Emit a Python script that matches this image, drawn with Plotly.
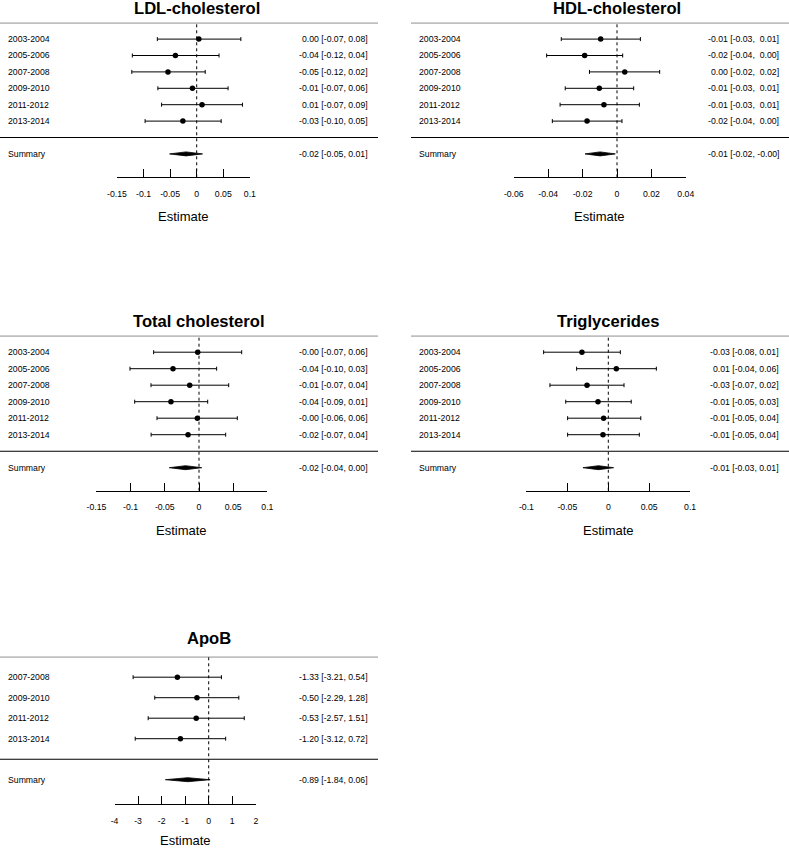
import plotly.graph_objects as go

W, H = 789, 848

# ---------------- data ----------------
years6 = ["2003-2004", "2005-2006", "2007-2008", "2009-2010", "2011-2012", "2013-2014"]
years4 = ["2007-2008", "2009-2010", "2011-2012", "2013-2014"]

ldl_est = [0.004, -0.040, -0.054, -0.008, 0.010, -0.026]
ldl_lo = [-0.074, -0.121, -0.122, -0.073, -0.066, -0.097]
ldl_hi = [0.083, 0.042, 0.016, 0.059, 0.086, 0.046]
ldl_sum = [-0.020, -0.051, 0.011]

hdl_est = [-0.0095, -0.0188, 0.0045, -0.0103, -0.0076, -0.0174]
hdl_lo = [-0.0324, -0.0409, -0.0160, -0.0301, -0.0331, -0.0376]
hdl_hi = [0.0136, 0.0033, 0.0248, 0.0097, 0.0130, 0.0029]
hdl_sum = [-0.0098, -0.0186, -0.0010]

tc_est = [-0.0019, -0.038, -0.0136, -0.041, -0.0024, -0.016]
tc_lo = [-0.0663, -0.1009, -0.0702, -0.094, -0.0614, -0.070]
tc_hi = [0.0624, 0.0258, 0.0434, 0.0127, 0.056, 0.039]
tc_sum = [-0.0197, -0.0434, 0.004]

tg_est = [-0.0322, 0.0098, -0.026, -0.0126, -0.0057, -0.0065]
tg_lo = [-0.079, -0.0387, -0.0713, -0.052, -0.0497, -0.0497]
tg_hi = [0.0147, 0.0587, 0.0192, 0.028, 0.0397, 0.0379]
tg_sum = [-0.012, -0.031, 0.0065]

apob_est = [-1.33, -0.50, -0.53, -1.20]
apob_lo = [-3.21, -2.29, -2.57, -3.12]
apob_hi = [0.54, 1.28, 1.51, 0.72]
apob_sum = [-0.89, -1.84, 0.06]

ticks_ldl = [-0.15, -0.1, -0.05, 0, 0.05, 0.1]
ticks_hdl = [-0.06, -0.04, -0.02, 0, 0.02, 0.04]
ticks_tc = [-0.15, -0.1, -0.05, 0, 0.05, 0.1]
ticks_tg = [-0.1, -0.05, 0, 0.05, 0.1]
ticks_apob = [-4, -3, -2, -1, 0, 1, 2]

# ---------------- layout geometry (pixels) ----------------
panels = [
    dict(title="LDL-cholesterol", labels=years6, est=ldl_est, lo=ldl_lo, hi=ldl_hi, summ=ldl_sum, ticks=ticks_ldl,
         zero=196.7, scale=532.0, left=0, right=378, ytop=22.7, unit=16.4, yaxis=177.3, ytitle=8.3, yxlab=216.7),
    dict(title="HDL-cholesterol", labels=years6, est=hdl_est, lo=hdl_lo, hi=hdl_hi, summ=hdl_sum, ticks=ticks_hdl,
         zero=617.0, scale=1720.0, left=411, right=789, ytop=22.7, unit=16.4, yaxis=177.3, ytitle=8.3, yxlab=216.7),
    dict(title="Total cholesterol", labels=years6, est=tc_est, lo=tc_lo, hi=tc_hi, summ=tc_sum, ticks=ticks_tc,
         zero=199.0, scale=684.0, left=0, right=378, ytop=335.7, unit=16.5, yaxis=490.7, ytitle=321.3, yxlab=530.0),
    dict(title="Triglycerides", labels=years6, est=tg_est, lo=tg_lo, hi=tg_hi, summ=tg_sum, ticks=ticks_tg,
         zero=608.3, scale=818.5, left=411, right=789, ytop=335.7, unit=16.5, yaxis=490.7, ytitle=321.3, yxlab=530.0),
    dict(title="ApoB", labels=years4, est=apob_est, lo=apob_lo, hi=apob_hi, summ=apob_sum, ticks=ticks_apob,
         zero=208.7, scale=23.55, left=0, right=378, ytop=656.7, unit=20.5, yaxis=804.3, ytitle=638.5, yxlab=840.7),
]

FONT = "Liberation Sans, Arial, Helvetica, sans-serif"
SMALL = 8.7
NB = "\u00a0"


def f2(v):
    return f"{v:.2f}"


def pad(s, w):
    return NB * (w - len(s)) + s


def make_labels(est, lo, hi, summ):
    all_lo = lo + [summ[1]]
    all_hi = hi + [summ[2]]
    wl = max(len(f2(v)) for v in all_lo)
    wh = max(len(f2(v)) for v in all_hi)
    out = []
    for e, l, h in zip(est + [summ[0]], all_lo, all_hi):
        out.append(f"{f2(e)} [{pad(f2(l), wl)}," + NB + f"{pad(f2(h), wh)}]")
    return out


def px_x(p):
    return p / W


def px_y(p):
    return 1 - p / H


fig = go.Figure()
annotations = []
shapes = []
layout_axes = {}

for i, P in enumerate(panels):
    n = i + 1
    xa = "x" if n == 1 else f"x{n}"
    ya = "y" if n == 1 else f"y{n}"
    xkey = "xaxis" if n == 1 else f"xaxis{n}"
    ykey = "yaxis" if n == 1 else f"yaxis{n}"
    k = len(P["labels"])
    tmin, tmax = min(P["ticks"]), max(P["ticks"])
    x_dom = [px_x(P["zero"] + tmin * P["scale"]), px_x(P["zero"] + tmax * P["scale"])]
    ytop_val = k + 1
    ybot_val = ytop_val - (P["yaxis"] - P["ytop"]) / P["unit"]
    y_dom = [px_y(P["yaxis"]), px_y(P["ytop"])]

    layout_axes[xkey] = dict(
        domain=x_dom, range=[tmin, tmax], anchor=ya, showgrid=False, zeroline=False,
        showline=True, linecolor="black", linewidth=1, ticks="inside", ticklen=8,
        tickwidth=1, tickcolor="black", tickvals=P["ticks"], ticktext=[f"{t:g}" for t in P["ticks"]],
        tickfont=dict(family=FONT, size=SMALL, color="black"), ticklabelstandoff=8,
        fixedrange=True, automargin=False,
    )
    layout_axes[ykey] = dict(
        domain=y_dom, range=[ybot_val, ytop_val], anchor=xa, visible=False, fixedrange=True,
        automargin=False, showgrid=False, zeroline=False,
    )

    rows = list(range(k, 0, -1))
    est, lo, hi = P["est"], P["lo"], P["hi"]

    # study estimates with CI
    fig.add_trace(go.Scatter(
        x=est, y=rows, xaxis=xa, yaxis=ya, mode="markers",
        marker=dict(color="black", size=5.5, symbol="circle"),
        error_x=dict(type="data", symmetric=False,
                     array=[h - e for h, e in zip(hi, est)],
                     arrayminus=[e - l for e, l in zip(est, lo)],
                     color="black", thickness=1, width=2),
        cliponaxis=False, showlegend=False, hoverinfo="skip",
    ))

    # summary diamond
    se, sl, sh = P["summ"]
    hh = 2.0 / P["unit"]
    fig.add_trace(go.Scatter(
        x=[sl, se, sh, se, sl], y=[-1, -1 + hh, -1, -1 - hh, -1], xaxis=xa, yaxis=ya,
        mode="lines", fill="toself", fillcolor="black", line=dict(color="black", width=0.8),
        showlegend=False, hoverinfo="skip",
    ))

    # horizontal rules
    for yv in (ytop_val, 0):
        shapes.append(dict(type="line", xref="paper", yref=ya,
                           x0=px_x(P["left"]), x1=px_x(P["right"]), y0=yv, y1=yv,
                           line=dict(color="black", width=1.1)))
    # dotted reference line at 0
    shapes.append(dict(type="line", xref=xa, yref=ya, x0=0, x1=0, y0=ybot_val, y1=ytop_val,
                       line=dict(color="black", width=1, dash="dot")))

    # text
    labs = make_labels(est, lo, hi, P["summ"])
    for lab, yv, txt in zip(P["labels"] + ["Summary"], rows + [-1], labs):
        annotations.append(dict(text=lab, xref="paper", yref=ya, x=px_x(P["left"] + 7.3), y=yv,
                                xanchor="left", yanchor="middle", showarrow=False, borderpad=0,
                                font=dict(family=FONT, size=SMALL, color="black")))
        annotations.append(dict(text=txt, xref="paper", yref=ya, x=px_x(P["right"] - 8.7), y=yv,
                                xanchor="right", yanchor="middle", showarrow=False, borderpad=0,
                                font=dict(family=FONT, size=SMALL, color="black")))
    annotations.append(dict(text=P["title"], xref=xa, yref="paper", x=0, y=px_y(P["ytitle"]),
                            xanchor="center", yanchor="middle", showarrow=False, borderpad=0,
                            font=dict(family=FONT, size=16.6, color="black", weight="bold")))
    annotations.append(dict(text="Estimate", xref=xa, yref="paper", x=(tmin + tmax) / 2, y=px_y(P["yxlab"]),
                            xanchor="center", yanchor="middle", showarrow=False, borderpad=0,
                            font=dict(family=FONT, size=13, color="black")))

fig.update_layout(
    template="none",
    width=W, height=H, autosize=False,
    margin=dict(l=0, r=0, t=0, b=0, pad=0),
    paper_bgcolor="white", plot_bgcolor="white",
    showlegend=False, annotations=annotations, shapes=shapes,
    **layout_axes,
)

fig.write_html(
    "out.html",
    config=dict(displayModeBar=False, responsive=False),
    post_script=(
        "document.documentElement.style.margin='0';"
        "document.documentElement.style.overflow='hidden';"
        "document.body.style.margin='0';"
        "document.body.style.padding='0';"
        "document.body.style.overflow='hidden';"
    ),
)
